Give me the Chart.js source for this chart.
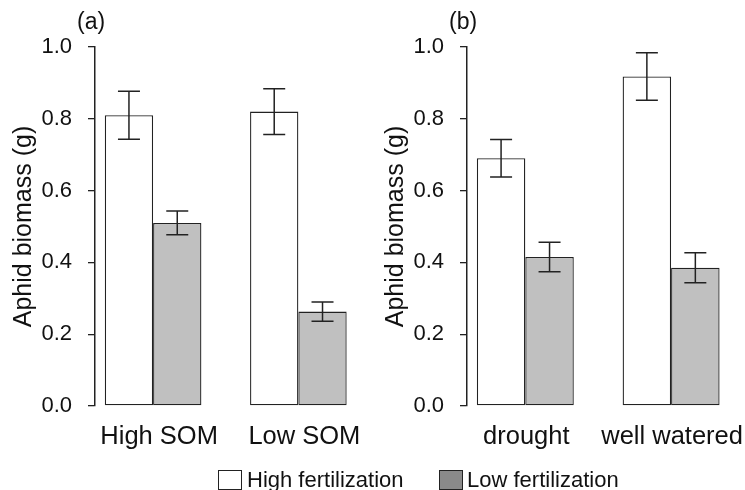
<!DOCTYPE html>
<html>
<head>
<meta charset="utf-8">
<script src="https://cdn.jsdelivr.net/npm/chart.js@4"></script>
<style>
  body { margin: 0; background: #fff; overflow: hidden; }
  #wrap { position: relative; width: 745px; height: 490px; font-family: "Liberation Sans", Arial, sans-serif; }
  canvas { position: absolute; top: 0; }
  #chartA { left: 0; }
  #chartB { left: 372px; }
  .key { position: absolute; top: 470px; width: 24px; height: 20px; box-sizing: border-box; border: 1px solid #222; }
  .keyText { position: absolute; top: 469px; font-size: 22px; line-height: 22px; color: #111; white-space: nowrap; }
</style>
</head>
<body>
<div id="wrap">
  <canvas id="chartA" width="372" height="490"></canvas>
  <canvas id="chartB" width="373" height="490"></canvas>
  <div class="key" style="left:218px; background:#fff;"></div>
  <div class="keyText" id="key1" style="left:247px;"></div>
  <div class="key" style="left:439px; background:#8a8a8a;"></div>
  <div class="keyText" id="key2" style="left:467px;"></div>
</div>
<script>
// panel (a): soil organic matter
const somGroups = ["High SOM", "Low SOM"];
const somHigh = [0.81, 0.82];
const somHighErr = [0.067, 0.064];
const somLow = [0.51, 0.263];
const somLowErr = [0.033, 0.027];

// panel (b): watering
const waterGroups = ["drought", "well watered"];
const waterHigh = [0.69, 0.918];
const waterHighErr = [0.052, 0.066];
const waterLow = [0.415, 0.385];
const waterLowErr = [0.041, 0.042];

const yTicks = [0, 0.2, 0.4, 0.6, 0.8, 1.0];
const seriesNames = ["High fertilization", "Low fertilization"];

const FONT = "'Liberation Sans', Arial, sans-serif";
const INK = "#222";

document.getElementById("key1").textContent = seriesNames[0];
document.getElementById("key2").textContent = seriesNames[1];

// draws error bars from dataset.errors
const errorBars = {
  id: "errorBars",
  afterDatasetsDraw(chart) {
    const ctx = chart.ctx;
    const y = chart.scales.y;
    ctx.save();
    ctx.strokeStyle = INK;
    ctx.lineWidth = 1.5;
    chart.data.datasets.forEach((ds, di) => {
      const meta = chart.getDatasetMeta(di);
      meta.data.forEach((bar, i) => {
        const v = ds.data[i].y;
        const e = ds.errors[i];
        const top = y.getPixelForValue(v + e);
        const bot = y.getPixelForValue(v - e);
        ctx.beginPath();
        ctx.moveTo(bar.x, top); ctx.lineTo(bar.x, bot);
        ctx.moveTo(bar.x - 11, top); ctx.lineTo(bar.x + 11, top);
        ctx.moveTo(bar.x - 11, bot); ctx.lineTo(bar.x + 11, bot);
        ctx.stroke();
      });
    });
    ctx.restore();
  }
};

// panel letter, left of the axis
const panelLetter = {
  id: "panelLetter",
  afterDraw(chart, args, opts) {
    const ctx = chart.ctx;
    ctx.save();
    ctx.font = "23px " + FONT;
    ctx.fillStyle = "#111";
    ctx.textBaseline = "alphabetic";
    ctx.fillText(opts.text, chart.chartArea.left - 18, 29);
    ctx.restore();
  }
};

function makePanel(id, letter, groups, high, highErr, low, lowErr, labelShift) {
  const pts = arr => arr.map((v, i) => ({ x: i + 1, y: v }));
  new Chart(document.getElementById(id), {
    type: "bar",
    data: {
      datasets: [
        {
          label: seriesNames[0],
          data: pts(high),
          errors: highErr,
          backgroundColor: "#ffffff",
          borderColor: INK,
          borderWidth: 1.3,
          borderSkipped: false
        },
        {
          label: seriesNames[1],
          data: pts(low),
          errors: lowErr,
          backgroundColor: "#c0c0c0",
          borderColor: INK,
          borderWidth: 1.3,
          borderSkipped: false
        }
      ]
    },
    options: {
      responsive: false,
      animation: false,
      layout: { padding: { top: 47, left: 0, right: 1, bottom: 0 } },
      categoryPercentage: 0.665,
      barPercentage: 1,
      plugins: {
        legend: { display: false },
        tooltip: { enabled: false },
        panelLetter: { text: letter }
      },
      scales: {
        x: {
          type: "linear",
          offset: false,
          bounds: "data",
          min: 0.6,
          max: 2.5,
          afterBuildTicks: s => { s.ticks = groups.map((g, i) => ({ value: i + 1 })); },
          afterFit: s => { s.height = 84; s.paddingLeft = 0; s.paddingRight = 0; },
          grid: { display: false, offset: false },
          border: { display: false },
          ticks: {
            callback: v => groups[v - 1],
            font: { family: FONT, size: 25.5 },
            color: "#111",
            padding: 8,
            labelOffset: labelShift,
            autoSkip: false,
            maxRotation: 0
          }
        },
        y: {
          min: 0,
          max: 1,
          afterBuildTicks: s => { s.ticks = yTicks.map(v => ({ value: v })); },
          afterFit: s => { s.width = 95; },
          grid: { drawOnChartArea: false, drawTicks: true, tickLength: 7, color: INK, lineWidth: 1.3 },
          border: { display: true, color: INK, width: 1.5 },
          ticks: {
            callback: v => v.toFixed(1),
            font: { family: FONT, size: 22 },
            color: "#111",
            padding: 16
          },
          title: {
            display: true,
            text: "Aphid biomass (g)",
            font: { family: FONT, size: 25 },
            color: "#111",
            padding: { top: 9, bottom: 0 }
          }
        }
      }
    },
    plugins: [errorBars, panelLetter]
  });
}

makePanel("chartA", "(a)", somGroups, somHigh, somHighErr, somLow, somLowErr, 6);
makePanel("chartB", "(b)", waterGroups, waterHigh, waterHighErr, waterLow, waterLowErr, 1);
</script>
</body>
</html>
